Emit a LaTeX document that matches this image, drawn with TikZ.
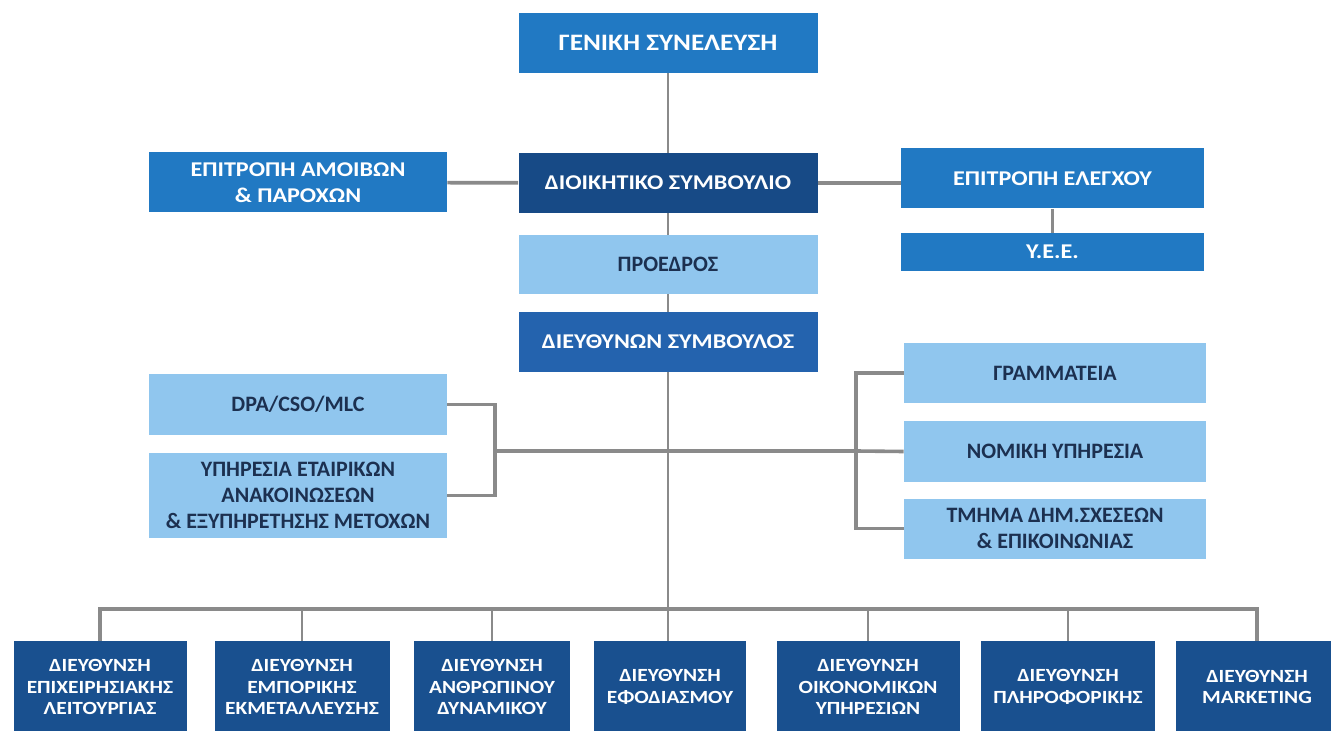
\documentclass[tikz,border=0pt]{standalone}
\usepackage{fontspec}
\setmainfont{Carlito}
\newfontfamily\widefont{Carlito}[FakeStretch=1.15]
\usepackage{tikz}
\usetikzlibrary{calc}
\definecolor{midblue}{HTML}{2179C3}
\definecolor{navy}{HTML}{174A86}
\definecolor{ceoblue}{HTML}{2463AE}
\definecolor{pale}{HTML}{90C6EE}
\definecolor{deep}{HTML}{19508F}
\definecolor{ink}{HTML}{1C3050}
\definecolor{wire}{HTML}{8A8A8A}
\tikzset{
  box/.style={rectangle, inner sep=0pt, align=center, minimum width=149.5pt, minimum height=30pt,
    font=\widefont\bfseries\fontsize{10.5}{13}\selectfont},
  midbox/.style={box, fill=midblue, text=white},
  navybox/.style={box, fill=navy, text=white},
  ceobox/.style={box, fill=ceoblue, text=white},
  palebox/.style={box, fill=pale, text=ink, font=\bfseries\fontsize{11}{13}\selectfont},
  unit/.style={box, fill=deep, text=white, minimum height=46pt,
    font=\widefont\bfseries\fontsize{9.3}{10.8}\selectfont},
  conn/.style={draw=wire, line width=1.1pt},
  busline/.style={draw=wire, line width=1.8pt},
}
\begin{document}
\begin{tikzpicture}[x=0.5pt, y=-0.5pt]
  \path[use as bounding box, fill=white] (0,0) rectangle (1331,731);
  % board column
  \node[midbox, font=\widefont\bfseries\fontsize{11.8}{13}\selectfont] (gs) at (668,43) {ΓΕΝΙΚΗ ΣΥΝΕΛΕΥΣΗ};
  \node[navybox] (ds) at (668,183) {ΔΙΟΙΚΗΤΙΚΟ ΣΥΜΒΟΥΛΙΟ};
  \node[palebox, minimum height=29.5pt] (pr) at (668,264.5) {ΠΡΟΕΔΡΟΣ};
  \node[ceobox] (ceo) at (668,342) {ΔΙΕΥΘΥΝΩΝ ΣΥΜΒΟΥΛΟΣ};
  % committees
  \node[midbox, minimum width=149pt] (ea) at (298,182.5) {ΕΠΙΤΡΟΠΗ ΑΜΟΙΒΩΝ\\\& ΠΑΡΟΧΩΝ};
  \node[midbox, minimum width=151.5pt] (ee) at (1052.5,178.5) {ΕΠΙΤΡΟΠΗ ΕΛΕΓΧΟΥ};
  \node[midbox, minimum width=151.5pt, minimum height=19pt] (yee) at (1052.5,252) {Υ.Ε.Ε.};
  % staff units
  \node[palebox, minimum width=149pt] (dpa) at (298,404.5) {DPA/CSO/MLC};
  \node[palebox, minimum width=149pt, minimum height=42.5pt] (yp) at (298,495.5)
    {ΥΠΗΡΕΣΙΑ ΕΤΑΙΡΙΚΩΝ\\ΑΝΑΚΟΙΝΩΣΕΩΝ\\\& ΕΞΥΠΗΡΕΤΗΣΗΣ ΜΕΤΟΧΩΝ};
  \node[palebox, minimum width=151pt] (gr) at (1055,373) {ΓΡΑΜΜΑΤΕΙΑ};
  \node[palebox, minimum width=151pt] (nom) at (1055,451.5) {ΝΟΜΙΚΗ ΥΠΗΡΕΣΙΑ};
  \node[palebox, minimum width=151pt] (tm) at (1055,528.5) {ΤΜΗΜΑ ΔΗΜ.ΣΧΕΣΕΩΝ\\\& ΕΠΙΚΟΙΝΩΝΙΑΣ};
  % divisions
  \foreach \n/\cx/\w/\txt in {
      1/100/86.5/{ΔΙΕΥΘΥΝΣΗ\\ΕΠΙΧΕΙΡΗΣΙΑΚΗΣ\\ΛΕΙΤΟΥΡΓΙΑΣ},
      2/302/87.5/{ΔΙΕΥΘΥΝΣΗ\\ΕΜΠΟΡΙΚΗΣ\\ΕΚΜΕΤΑΛΛΕΥΣΗΣ},
      3/492/78/{ΔΙΕΥΘΥΝΣΗ\\ΑΝΘΡΩΠΙΝΟΥ\\ΔΥΝΑΜΙΚΟΥ},
      4/670/76/{ΔΙΕΥΘΥΝΣΗ\\ΕΦΟΔΙΑΣΜΟΥ},
      5/868/91.5/{ΔΙΕΥΘΥΝΣΗ\\ΟΙΚΟΝΟΜΙΚΩΝ\\ΥΠΗΡΕΣΙΩΝ},
      6/1068/87/{ΔΙΕΥΘΥΝΣΗ\\ΠΛΗΡΟΦΟΡΙΚΗΣ},
      7/1257/81/{ΔΙΕΥΘΥΝΣΗ\\MARKETING}}
    \node[unit, minimum width=\w pt] (bx\n) at (\cx,687) {\txt};

  \coordinate (lb) at (495,451);
  \coordinate (rb) at (856,451);
  \coordinate (bus) at (668,609);

  \draw[conn] (gs) -- (ds);
  \draw[conn] (ds) -- (pr);
  \draw[conn] (pr) -- (ceo);
  \draw[conn] (ceo) -- (ceo |- bx4.north);
  \draw[busline] (ea) -- (ds);
  \draw[busline] (ds.east) -- (ds.east -| ee.west);
  \draw[conn] (ee) -- (yee);
  % side brackets
  \draw[busline] (dpa.east) -| (lb);
  \draw[busline] (yp.east) -| (lb);
  \draw[busline] (lb) -- (rb);
  \draw[busline] (gr.west) -| (rb);
  \draw[busline] (tm.west) -| (rb);
  \draw[busline] (nom.west) -- (rb);
  % division bus
  \draw[busline] (bx1.north) |- (bus) -| (bx7.north);
  \foreach \n in {2,3,5,6}
    \draw[conn] (bx\n.north) -- (bx\n.north |- bus);
\end{tikzpicture}
\end{document}
